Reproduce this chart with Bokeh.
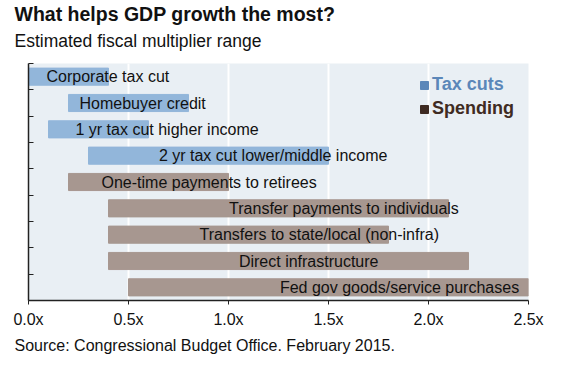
from bokeh.plotting import figure
from bokeh.models import (ColumnDataSource, FixedTicker, Title, Legend, LegendItem, Range1d,
                          CustomLabelingPolicy)
from bokeh.core.properties import value
from bokeh.embed import file_html
from bokeh.resources import INLINE

# ---- data ----
categories = [
    "Corporate tax cut",
    "Homebuyer credit",
    "1 yr tax cut higher income",
    "2 yr tax cut lower/middle income",
    "One-time payments to retirees",
    "Transfer payments to individuals",
    "Transfers to state/local (non-infra)",
    "Direct infrastructure",
    "Fed gov goods/service purchases",
]
low = [0.0, 0.2, 0.1, 0.3, 0.2, 0.4, 0.4, 0.4, 0.5]
high = [0.4, 0.8, 0.6, 1.5, 1.0, 2.1, 1.8, 2.2, 2.5]
kind = ["Tax cuts", "Tax cuts", "Tax cuts", "Tax cuts",
        "Spending", "Spending", "Spending", "Spending", "Spending"]
tick_values = [0.0, 0.5, 1.0, 1.5, 2.0, 2.5]
tick_labels = ["0.0x", "0.5x", "1.0x", "1.5x", "2.0x", "2.5x"]

# label anchor (left edge of each label text, in x units) -- layout only
label_anchor = [0.09, 0.255, 0.235, 0.652, 0.365, 1.003, 0.855, 1.052, 1.257]

FONT = "Liberation Sans"
bar_color = {"Tax cuts": "#92b6da", "Spending": "#a79790"}
legend_color = {"Tax cuts": "#5b87b9", "Spending": "#3f2b22"}

n = len(categories)
ypos = [n - 1 - i + 0.5 for i in range(n)]

src = ColumnDataSource(dict(
    cat=categories, low=low, high=high, kind=kind, y=ypos,
    color=[bar_color[k] for k in kind], lx=label_anchor,
))

p = figure(width=563, height=358, x_range=Range1d(0, 2.5), y_range=Range1d(0, n),
           output_backend="svg", toolbar_location=None, title=None,
           min_border_left=28, min_border_right=35, min_border_top=63,
           min_border_bottom=58)
p.background_fill_color = "#e9eff4"
p.border_fill_color = "white"
p.outline_line_color = None

p.hbar(y="y", left="low", right="high", height=0.65, color="color", source=src)
p.text(x="lx", y="y", text="cat", source=src, text_font=value(FONT),
       text_font_size="16px", text_baseline="middle", text_align="left",
       text_color="#111111")

# axes
p.xaxis.ticker = FixedTicker(ticks=tick_values)
p.xaxis.major_label_overrides = {v: l for v, l in zip(tick_values, tick_labels)}
p.xaxis.major_label_text_font = FONT
p.xaxis.major_label_text_font_size = "16px"
p.xaxis.major_label_text_color = "#111111"
p.xaxis.major_label_standoff = 6
p.xaxis.axis_line_color = "#222222"
p.xaxis.axis_line_width = 1.5
p.xaxis.major_tick_line_color = "#222222"
p.xaxis.major_tick_in = 0
p.xaxis.major_tick_out = 4
p.xaxis.minor_tick_line_color = None

p.yaxis.ticker = FixedTicker(ticks=list(range(n + 1)))
p.yaxis.major_label_policy = CustomLabelingPolicy(code="return []")
p.yaxis.major_label_standoff = 0
p.yaxis.axis_line_color = "#222222"
p.yaxis.axis_line_width = 1.5
p.yaxis.major_tick_line_color = "#222222"
p.yaxis.major_tick_in = 5
p.yaxis.major_tick_out = 0
p.yaxis.minor_tick_line_color = None

p.xgrid.ticker = FixedTicker(ticks=tick_values[1:-1])
p.xgrid.grid_line_color = "white"
p.xgrid.grid_line_width = 2
p.ygrid.visible = False

# legend (two one-item legends so the text colours differ); swatch renderers hold no drawable point
nan = float("nan")
for name, yloc in (("Tax cuts", 205), ("Spending", 181)):
    swatch = ColumnDataSource(dict(l=[nan], r=[nan], b=[nan], t=[nan]))
    r = p.quad(left="l", right="r", bottom="b", top="t", source=swatch,
               color=legend_color[name])
    leg = Legend(items=[LegendItem(label=name, renderers=[r])], location=(391, yloc),
                 orientation="vertical", padding=0, spacing=0, margin=0,
                 glyph_width=10, glyph_height=10, label_height=20, label_standoff=3,
                 label_text_font=FONT, label_text_font_size="18px",
                 label_text_font_style="bold", label_text_color=legend_color[name],
                 background_fill_alpha=0, border_line_color=None)
    p.add_layout(leg)

# titles
p.add_layout(Title(text="Estimated fiscal multiplier range", text_font=FONT,
                   text_font_size="17.5px", text_font_style="normal", align="left",
                   offset=-14, standoff=25, text_color="#111111"), "above")
p.add_layout(Title(text="What helps GDP growth the most?", text_font=FONT,
                   text_font_size="19.5px", text_font_style="bold", align="left",
                   offset=-14, standoff=-16, text_color="#111111"), "above")
p.add_layout(Title(text="Source: Congressional Budget Office. February 2015.",
                   text_font=FONT, text_font_size="16px", text_font_style="normal",
                   align="left", offset=-14, standoff=9, text_color="#111111"), "below")

open("out.html", "w").write(file_html(p, INLINE))
